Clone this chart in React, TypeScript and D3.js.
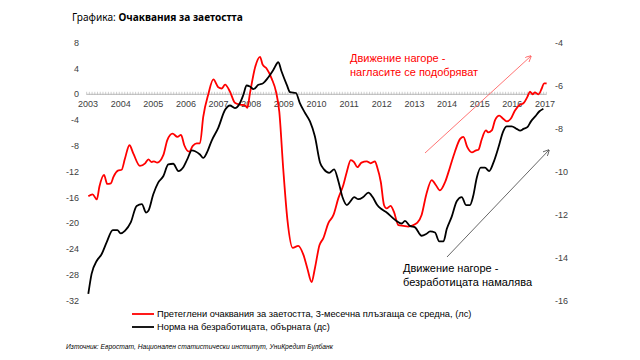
import React from "react";
import * as d3 from "d3";

// Претеглени очаквания за заетостта (лс), fractional year / value
const redYears = [2003.01, 2003.14, 2003.27, 2003.35, 2003.49, 2003.59, 2003.7, 2003.78, 2003.93, 2004.03, 2004.13, 2004.27, 2004.39, 2004.59, 2004.75, 2004.85, 2004.95, 2005.02, 2005.12, 2005.31, 2005.43, 2005.59, 2005.74, 2005.85, 2005.95, 2006.1, 2006.21, 2006.33, 2006.43, 2006.53, 2006.69, 2006.84, 2006.99, 2007.1, 2007.2, 2007.35, 2007.5, 2007.66, 2007.81, 2007.88, 2007.96, 2008.12, 2008.27, 2008.35, 2008.47, 2008.63, 2008.76, 2008.86, 2008.98, 2009.11, 2009.27, 2009.44, 2009.6, 2009.72, 2009.85, 2009.95, 2010.09, 2010.21, 2010.36, 2010.52, 2010.67, 2010.82, 2010.93, 2011.05, 2011.15, 2011.25, 2011.38, 2011.54, 2011.66, 2011.79, 2011.86, 2011.97, 2012.07, 2012.15, 2012.27, 2012.37, 2012.51, 2012.66, 2012.81, 2012.95, 2013.09, 2013.22, 2013.36, 2013.53, 2013.66, 2013.78, 2013.94, 2014.09, 2014.24, 2014.4, 2014.5, 2014.62, 2014.76, 2014.89, 2014.96, 2015.06, 2015.19, 2015.26, 2015.37, 2015.47, 2015.6, 2015.7, 2015.83, 2015.95, 2016.08, 2016.24, 2016.34, 2016.46, 2016.54, 2016.62, 2016.69, 2016.8, 2016.9, 2016.97, 2017.05];
const redValues = [-15.8, -15.5, -16.3, -14.3, -12.5, -13.9, -13.8, -12.8, -11.8, -11.7, -10.0, -7.9, -9.2, -11.1, -10.7, -10.1, -10.5, -10.4, -10.6, -9.4, -7.1, -6.1, -6.6, -6.3, -7.9, -8.9, -8.0, -7.6, -7.6, -3.5, 0.1, 2.3, 1.1, 0.9, 1.5, 0.4, -1.3, -1.6, -1.7, -2.1, 0.1, 4.2, 5.8, 4.6, 4.0, 2.4, 0.4, -2.7, -11.5, -19.5, -23.8, -23.5, -24.9, -27.0, -29.1, -27.0, -23.4, -22.3, -20.0, -18.7, -16.1, -14.1, -12.0, -10.2, -10.5, -11.3, -10.6, -10.4, -10.7, -10.4, -11.3, -13.6, -17.2, -17.7, -17.3, -18.2, -20.3, -20.4, -20.5, -20.3, -19.9, -18.7, -15.6, -13.3, -14.1, -14.9, -13.6, -11.3, -8.9, -6.9, -6.6, -8.2, -9.0, -8.7, -8.6, -7.0, -5.6, -5.9, -5.6, -4.0, -3.3, -3.7, -4.2, -3.8, -2.5, -1.6, -1.4, -0.4, 0.4, 0.0, 0.3, 0.0, 0.9, 1.7, 1.7];

// Норма на безработицата, обърната (дс)
const blackYears = [2003.01, 2003.11, 2003.27, 2003.42, 2003.57, 2003.76, 2003.9, 2004.0, 2004.13, 2004.31, 2004.49, 2004.65, 2004.78, 2004.85, 2005.0, 2005.15, 2005.31, 2005.46, 2005.61, 2005.77, 2005.92, 2006.04, 2006.18, 2006.28, 2006.43, 2006.53, 2006.64, 2006.79, 2006.99, 2007.2, 2007.35, 2007.5, 2007.64, 2007.76, 2007.86, 2007.96, 2008.07, 2008.22, 2008.37, 2008.52, 2008.68, 2008.83, 2008.93, 2009.09, 2009.19, 2009.37, 2009.49, 2009.65, 2009.8, 2009.95, 2010.11, 2010.23, 2010.39, 2010.54, 2010.67, 2010.8, 2010.93, 2011.05, 2011.15, 2011.28, 2011.43, 2011.59, 2011.72, 2011.86, 2012.0, 2012.15, 2012.3, 2012.45, 2012.61, 2012.71, 2012.86, 2013.02, 2013.22, 2013.36, 2013.48, 2013.63, 2013.76, 2013.89, 2013.99, 2014.14, 2014.3, 2014.45, 2014.58, 2014.7, 2014.8, 2014.91, 2015.03, 2015.16, 2015.29, 2015.42, 2015.57, 2015.72, 2015.83, 2015.98, 2016.13, 2016.24, 2016.34, 2016.46, 2016.57, 2016.7, 2016.83, 2016.95];
const blackValues = [-15.68, -14.75, -14.14, -13.83, -13.29, -12.72, -12.72, -12.87, -12.75, -12.36, -11.59, -11.51, -11.9, -11.82, -11.05, -10.51, -10.2, -9.66, -9.63, -9.97, -9.79, -9.43, -9.01, -9.05, -9.2, -9.36, -9.12, -8.55, -7.96, -7.12, -6.92, -7.04, -6.85, -6.42, -5.99, -6.04, -6.16, -5.96, -5.88, -5.62, -5.26, -4.91, -5.34, -5.96, -6.3, -6.34, -6.81, -7.27, -7.66, -8.35, -9.58, -9.89, -10.05, -9.89, -10.44, -11.2, -11.55, -11.36, -11.18, -11.28, -11.18, -10.97, -11.18, -11.55, -11.75, -11.9, -12.1, -12.29, -12.41, -12.29, -12.52, -12.59, -12.98, -12.9, -12.78, -12.83, -13.24, -13.24, -12.67, -12.1, -11.36, -11.18, -11.55, -11.55, -11.13, -10.28, -9.81, -9.81, -9.97, -9.58, -8.89, -8.12, -7.89, -7.89, -8.01, -8.09, -8.01, -7.93, -7.66, -7.43, -7.19, -7.07];

const leftTicks = [8, 4, 0, -4, -8, -12, -16, -20, -24, -28, -32];
const rightTicks = [-4, -6, -8, -10, -12, -14, -16];
const yearLabels = [2003, 2004, 2005, 2006, 2007, 2008, 2009, 2010, 2011, 2012, 2013, 2014, 2015, 2016, 2017];

const legendLabels = [
  "Претеглени очаквания за заетостта, 3-месечна плъзгаща се средна, (лс)",
  "Норма на безработицата, обърната (дс)",
];

const W = 640;
const H = 360;
const axisFont = "'Liberation Sans', Arial, sans-serif";

const App = () => {
  const x = d3.scaleLinear().domain([2003, 2017]).range([88, 545]);
  const yL = d3.scaleLinear().domain([-32, 8]).range([300.7, 42.7]);
  const yR = d3.scaleLinear().domain([-16, -4]).range([300.7, 42.7]);

  const redPts = redYears.map((t, i) => [t, redValues[i]] as [number, number]);
  const blackPts = blackYears.map((t, i) => [t, blackValues[i]] as [number, number]);

  const redLine = d3
    .line<[number, number]>()
    .x((d) => x(d[0]))
    .y((d) => yL(d[1]))
    .curve(d3.curveMonotoneX);
  const blackLine = d3
    .line<[number, number]>()
    .x((d) => x(d[0]))
    .y((d) => yR(d[1]))
    .curve(d3.curveMonotoneX);

  // monthly category ticks on the zero line
  const monthTicks = d3.range(0, 14 * 12 + 2).map((k) => x(2003 + (k - 0.5) / 12));
  const y0 = yL(0);

  return (
    <div style={{ position: "fixed", left: 0, top: 0 }}>
      <svg width={W} height={H} style={{ display: "block", background: "#fff" }}>
        <defs>
          <marker id="arRed" viewBox="0 0 10 10" refX="9" refY="5" markerWidth="8" markerHeight="8" orient="auto">
            <path d="M0,0 L10,5 L0,10" fill="none" stroke="#ff5050" strokeWidth="1.2" />
          </marker>
          <marker id="arBlack" viewBox="0 0 10 10" refX="9" refY="5" markerWidth="8" markerHeight="8" orient="auto">
            <path d="M0,0 L10,5 L0,10" fill="none" stroke="#404040" strokeWidth="1.2" />
          </marker>
        </defs>

        {/* title */}
        <text x={72} y={21} fontFamily="'Noto Sans', 'Open Sans', sans-serif" fontSize={10.1} fill="#000">
          Графика: <tspan fontWeight="bold">Очаквания за заетостта</tspan>
        </text>

        {/* left axis labels */}
        {leftTicks.map((t) => (
          <text key={"l" + t} x={79} y={yL(t)} dy="0.35em" textAnchor="end" fontFamily={axisFont} fontSize={9} fill="#404040">
            {t}
          </text>
        ))}
        {/* right axis labels */}
        {rightTicks.map((t) => (
          <text key={"r" + t} x={555} y={yR(t)} dy="0.35em" fontFamily={axisFont} fontSize={9} fill="#404040">
            {t}
          </text>
        ))}

        {/* category axis on zero */}
        <line x1={monthTicks[0]} x2={monthTicks[monthTicks.length - 1]} y1={y0} y2={y0} stroke="#a6a6a6" strokeWidth={0.8} />
        {monthTicks.map((mx, i) => (
          <line key={"m" + i} x1={mx} x2={mx} y1={y0 - 2.5} y2={y0 + 0.5} stroke="#b0b0b0" strokeWidth={0.6} />
        ))}
        {yearLabels.map((yr) => (
          <text key={"y" + yr} x={x(yr)} y={y0 + 13} textAnchor="middle" fontFamily={axisFont} fontSize={9} fill="#404040">
            {yr}
          </text>
        ))}

        {/* series */}
        <path d={redLine(redPts) || ""} fill="none" stroke="#ff0000" strokeWidth={1.8} strokeLinejoin="round" />
        <path d={blackLine(blackPts) || ""} fill="none" stroke="#000" strokeWidth={1.8} strokeLinejoin="round" />

        {/* annotations */}
        <line x1={425} y1={153} x2={531} y2={56} stroke="#ff5050" strokeWidth={0.8} markerEnd="url(#arRed)" />
        <text fontFamily={axisFont} fontSize={11} fill="#ff0000">
          <tspan x={350} y={62}>Движение нагоре -</tspan>
          <tspan x={350} y={76}>нагласите се подобряват</tspan>
        </text>
        <line x1={447} y1={257} x2={549} y2={150} stroke="#404040" strokeWidth={0.8} markerEnd="url(#arBlack)" />
        <text fontFamily={axisFont} fontSize={11} fill="#000">
          <tspan x={403} y={272}>Движение нагоре -</tspan>
          <tspan x={403} y={286}>безработицата намалява</tspan>
        </text>

        {/* legend */}
        {legendLabels.map((lab, i) => (
          <g key={"lg" + i} transform={`translate(132,${314 + i * 13})`}>
            <line x1={0} x2={22} y1={0} y2={0} stroke={i === 0 ? "#ff0000" : "#000"} strokeWidth={1.8} />
            <text x={25} y={0} dy="0.35em" fontFamily={axisFont} fontSize={9.3} fill="#000">
              {lab}
            </text>
          </g>
        ))}

        {/* source */}
        <text x={66} y={349} fontFamily={axisFont} fontSize={6.7} fontStyle="italic" fill="#000">
          Източник: Евростат, Национален статистически институт, УниКредит Булбанк
        </text>
      </svg>
    </div>
  );
};

export default App;
